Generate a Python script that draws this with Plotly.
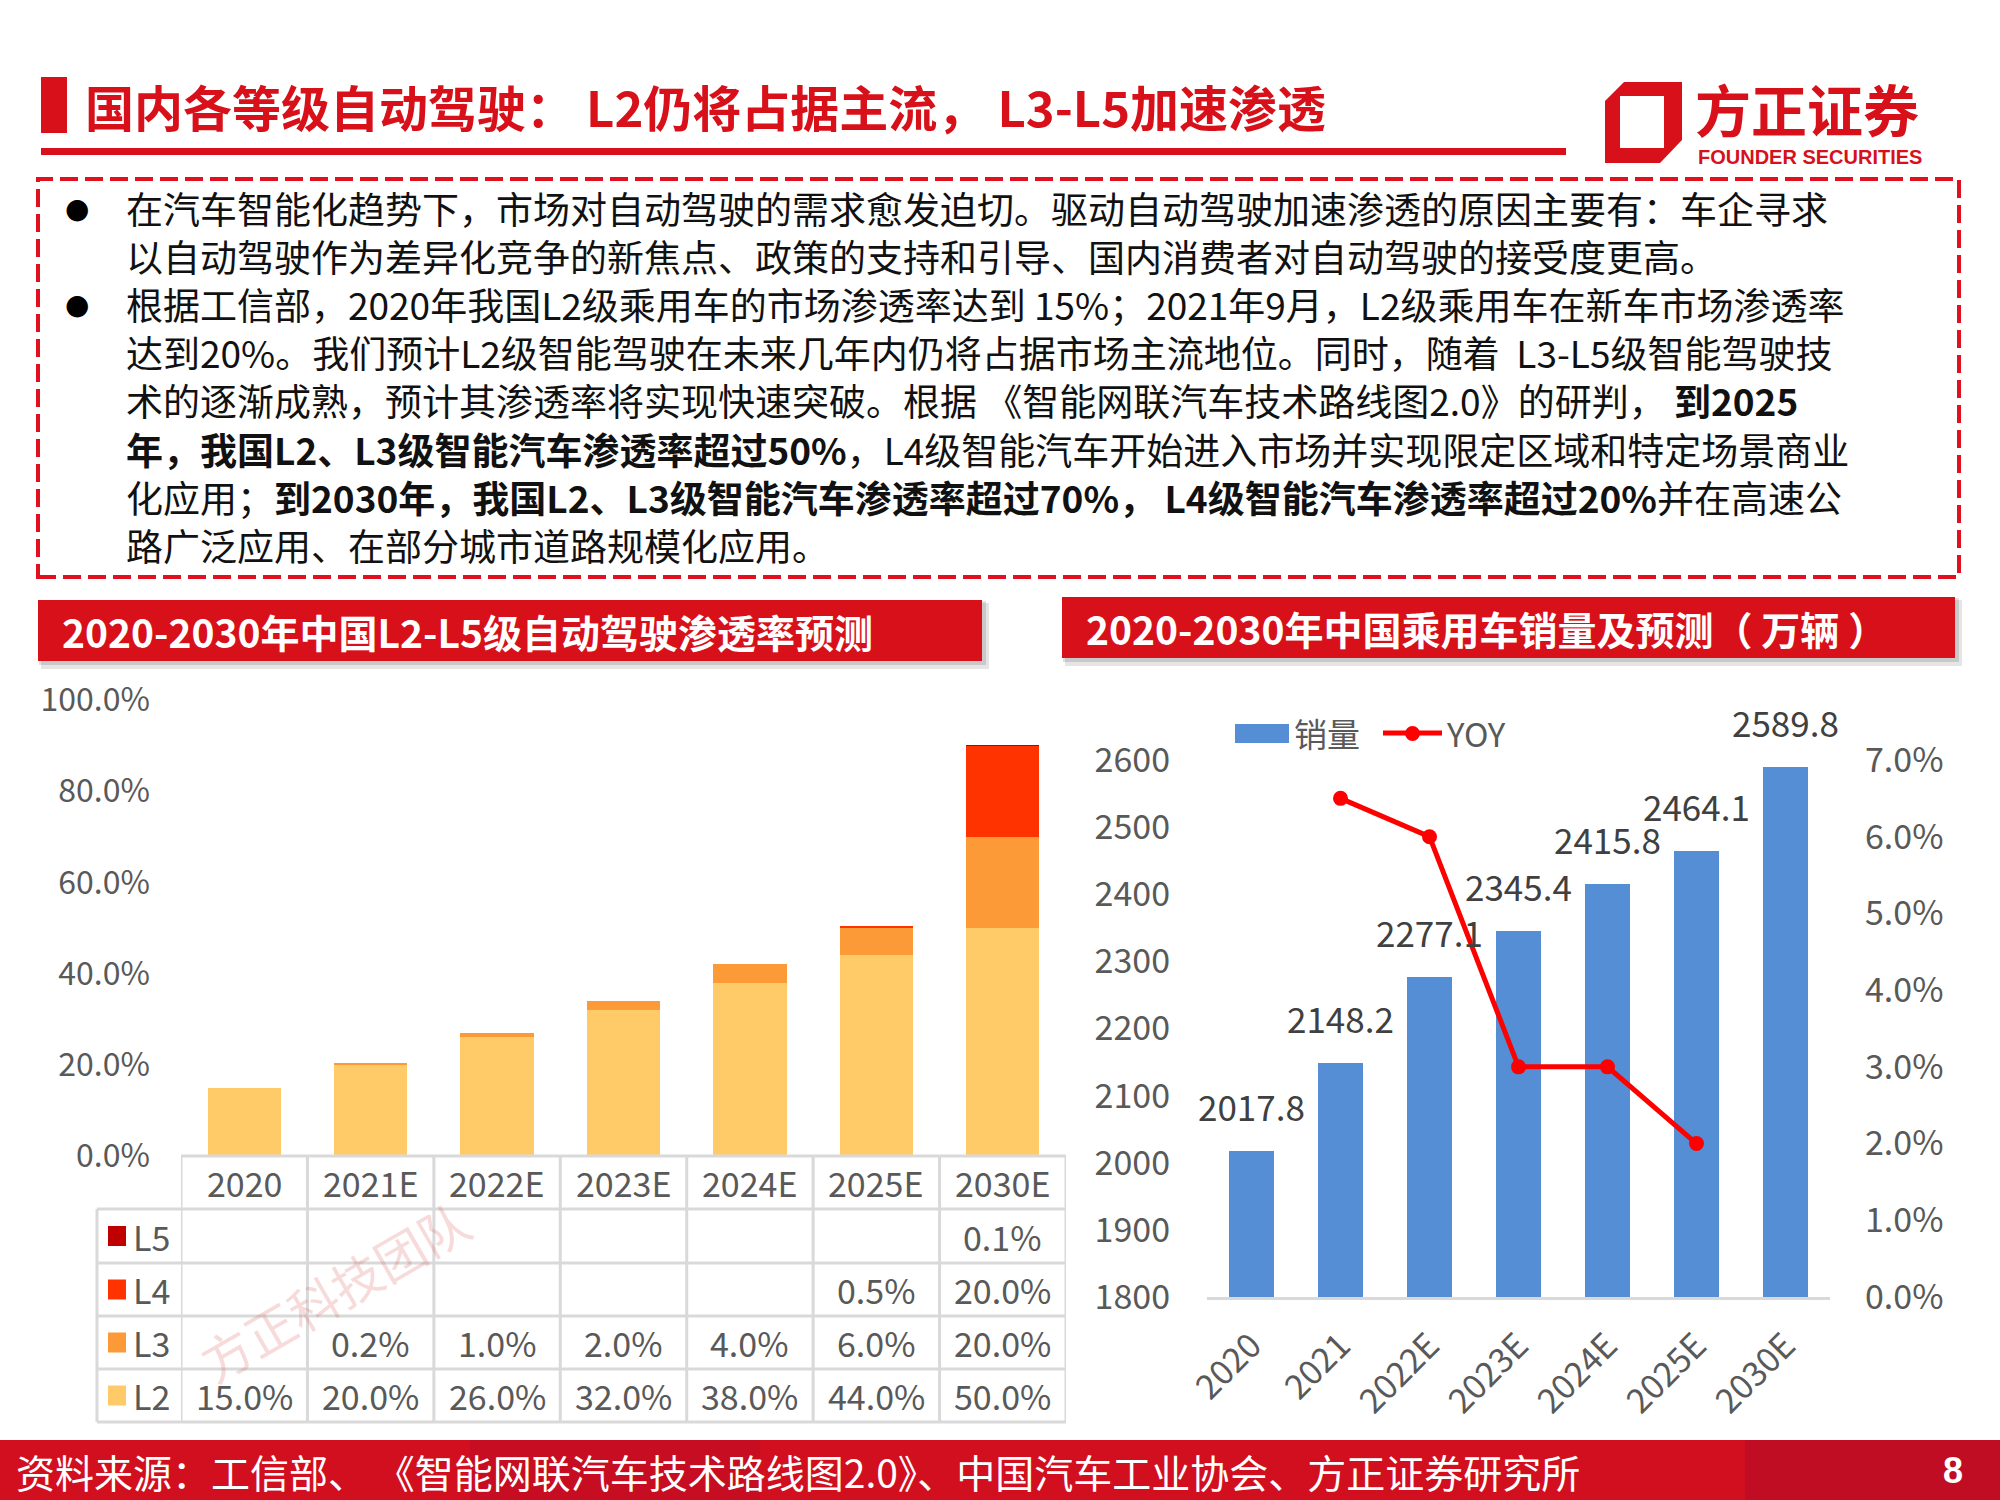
import plotly.graph_objects as go

# ---------------- data ----------------
years_left = ["2020", "2021E", "2022E", "2023E", "2024E", "2025E", "2030E"]
L2 = [15.0, 20.0, 26.0, 32.0, 38.0, 44.0, 50.0]
L3 = [None, 0.2, 1.0, 2.0, 4.0, 6.0, 20.0]
L4 = [None, None, None, None, None, 0.5, 20.0]
L5 = [None, None, None, None, None, None, 0.1]
level_names = ["L5", "L4", "L3", "L2"]

years_right = ["2020", "2021", "2022E", "2023E", "2024E", "2025E", "2030E"]
sales = [2017.8, 2148.2, 2277.1, 2345.4, 2415.8, 2464.1, 2589.8]
yoy = [None, 6.5, 6.0, 3.0, 3.0, 2.0, None]

title_text = "国内各等级自动驾驶： L2仍将占据主流， L3-L5加速渗透"
left_header = "2020-2030年中国L2-L5级自动驾驶渗透率预测"
right_header = "2020-2030年中国乘用车销量及预测（ 万辆 ）"
source_text = "资料来源：工信部、 《智能网联汽车技术路线图2.0》、中国汽车工业协会、方正证券研究所"
body_lines = [
    "在汽车智能化趋势下，市场对自动驾驶的需求愈发迫切。驱动自动驾驶加速渗透的原因主要有：车企寻求",
    "以自动驾驶作为差异化竞争的新焦点、政策的支持和引导、国内消费者对自动驾驶的接受度更高。",
    "根据工信部，2020年我国L2级乘用车的市场渗透率达到 15%；2021年9月，L2级乘用车在新车市场渗透率",
    "达到20%。我们预计L2级智能驾驶在未来几年内仍将占据市场主流地位。同时，随着  L3-L5级智能驾驶技",
    "术的逐渐成熟，预计其渗透率将实现快速突破。根据 《智能网联汽车技术路线图2.0》的研判， <b>到2025</b>",
    "<b>年，我国L2、L3级智能汽车渗透率超过50%</b>，L4级智能汽车开始进入市场并实现限定区域和特定场景商业",
    "化应用；<b>到2030年，我国L2、L3级智能汽车渗透率超过70%， L4级智能汽车渗透率超过20%</b>并在高速公",
    "路广泛应用、在部分城市道路规模化应用。",
]
bullet_rows = [0, 2]

# ---------------- style ----------------
W, H = 2000, 1500
RED = "#D7101A"
CJK = "Noto Sans CJK SC"
GRAY_TXT = "#595959"
level_colors = {"L2": "#FECB68", "L3": "#FD9A38", "L4": "#FF3300", "L5": "#C00000"}
BLUE = "#558ED5"
BODY_SIZE = 37


def px(x):
    return x / W


def py(y):
    return 1 - y / H


fig = go.Figure()

# ---------------- left stacked bars ----------------
series = {"L2": L2, "L3": L3, "L4": L4, "L5": L5}
for name in ["L2", "L3", "L4", "L5"]:
    fig.add_trace(go.Bar(
        x=years_left, y=series[name], name=name, width=0.58,
        marker=dict(color=level_colors[name], line=dict(width=0)),
        xaxis="x", yaxis="y", showlegend=False,
    ))

# ---------------- right bars + line ----------------
fig.add_trace(go.Bar(
    x=years_right, y=sales, name="销量", width=0.5,
    marker=dict(color=BLUE, line=dict(width=0)),
    xaxis="x2", yaxis="y2", showlegend=False,
))
fig.add_trace(go.Scatter(
    x=years_right, y=yoy, name="YOY", mode="lines+markers",
    line=dict(color="#FF0000", width=5),
    marker=dict(color="#FF0000", size=15),
    xaxis="x2", yaxis="y3", showlegend=False,
))

shapes = []
ann = []

# ---------------- title area ----------------
shapes.append(dict(type="rect", xref="paper", yref="paper", x0=px(41), x1=px(67), y0=py(133), y1=py(77),
                   fillcolor=RED, line=dict(width=0), layer="above"))
shapes.append(dict(type="rect", xref="paper", yref="paper", x0=px(41), x1=px(1566), y0=py(155), y1=py(148),
                   fillcolor=RED, line=dict(width=0), layer="above"))
ann.append(dict(text="<b>" + title_text + "</b>", x=px(83), y=py(106), xref="paper", yref="paper",
                xanchor="left", yanchor="middle", showarrow=False,
                font=dict(family=CJK, size=49, color=RED)))

# logo icon
shapes.append(dict(type="path", xref="paper", yref="paper",
                   path=f"M {px(1624)} {py(82)} L {px(1682)} {py(82)} L {px(1682)} {py(140)} "
                        f"L {px(1660)} {py(163)} L {px(1605)} {py(163)} L {px(1605)} {py(101)} Z",
                   fillcolor=RED, line=dict(width=0), layer="above"))
shapes.append(dict(type="rect", xref="paper", yref="paper", x0=px(1620), x1=px(1664), y0=py(148), y1=py(96),
                   fillcolor="white", line=dict(width=0), layer="above"))
ann.append(dict(text="<b>方正证券</b>", x=px(1693), y=py(107), xref="paper", yref="paper",
                xanchor="left", yanchor="middle", showarrow=False,
                font=dict(family=CJK, size=56, color=RED)))
ann.append(dict(text="<b>FOUNDER SECURITIES</b>", x=px(1696), y=py(157), xref="paper", yref="paper",
                xanchor="left", yanchor="middle", showarrow=False,
                font=dict(family="Liberation Sans", size=20, color=RED)))

# ---------------- dashed text box ----------------
shapes.append(dict(type="rect", xref="paper", yref="paper", x0=px(38), x1=px(1959), y0=py(577), y1=py(179),
                   line=dict(color="#E0101E", width=4, dash="18px,7px"), fillcolor="rgba(0,0,0,0)"))
body_center = (213 + 540) / 2
line_h = 1.3 * BODY_SIZE
n_lines = len(body_lines)
ann.append(dict(text="<br>".join(body_lines), x=px(124), y=py(body_center),
                xref="paper", yref="paper", xanchor="left", yanchor="middle", align="left",
                showarrow=False, font=dict(family=CJK, size=BODY_SIZE, color="#111111")))
for r in bullet_rows:
    yc = body_center + (r - (n_lines - 1) / 2) * line_h
    ann.append(dict(text="●", x=px(77), y=py(yc), xref="paper", yref="paper",
                    xanchor="center", yanchor="middle", showarrow=False,
                    font=dict(family="DejaVu Sans", size=28, color="#000000")))

# ---------------- section headers ----------------
for (x0, x1, y0, y1, txt, tx) in [(38, 982, 600, 661, left_header, 60),
                                  (1062, 1955, 597, 658, right_header, 1084)]:
    shapes.append(dict(type="rect", xref="paper", yref="paper", x0=px(x0 + 3), x1=px(x1 + 7), y0=py(y1 + 8), y1=py(y0 + 3),
                       fillcolor="rgba(0,0,0,0.10)", line=dict(width=0)))
    shapes.append(dict(type="rect", xref="paper", yref="paper", x0=px(x0 + 1), x1=px(x1 + 4), y0=py(y1 + 4), y1=py(y0 + 1),
                       fillcolor="rgba(0,0,0,0.12)", line=dict(width=0)))
    shapes.append(dict(type="rect", xref="paper", yref="paper", x0=px(x0), x1=px(x1), y0=py(y1), y1=py(y0),
                       fillcolor=RED, line=dict(width=0)))
    ann.append(dict(text="<b>" + txt + "</b>", x=px(tx), y=py((y0 + y1) / 2), xref="paper", yref="paper",
                    xanchor="left", yanchor="middle", showarrow=False,
                    font=dict(family=CJK, size=39, color="white")))

# ---------------- left data table ----------------
GRID = "#D9D9D9"
row_edges = [1156, 1209, 1263, 1316, 1369, 1422]
shapes.append(dict(type="line", xref="x", yref="paper", x0=-0.5, x1=6.5, y0=py(1156), y1=py(1156),
                   line=dict(color=GRID, width=3)))
for yy in row_edges[1:]:
    shapes.append(dict(type="line", xref="paper", yref="paper", x0=px(97), x1=px(1066), y0=py(yy), y1=py(yy),
                       line=dict(color=GRID, width=3)))
for k in range(len(years_left) + 1):
    shapes.append(dict(type="line", xref="x", yref="paper", x0=k - 0.5, x1=k - 0.5, y0=py(1156), y1=py(1422),
                       line=dict(color=GRID, width=3)))
shapes.append(dict(type="line", xref="paper", yref="paper", x0=px(97), x1=px(97), y0=py(1209), y1=py(1422),
                   line=dict(color=GRID, width=3)))
for ci, c in enumerate(years_left):
    ann.append(dict(text=c, x=ci, y=py((1156 + 1209) / 2), xref="x", yref="paper",
                    xanchor="center", yanchor="middle", showarrow=False,
                    font=dict(family=CJK, size=34, color=GRAY_TXT)))
for ri, name in enumerate(level_names):
    yc = (row_edges[ri + 1] + row_edges[ri + 2]) / 2
    shapes.append(dict(type="rect", xref="paper", yref="paper", x0=px(108), x1=px(126),
                       y0=py(yc + 10), y1=py(yc - 10), fillcolor=level_colors[name], line=dict(width=0)))
    ann.append(dict(text=name, x=px(131), y=py(yc), xref="paper", yref="paper",
                    xanchor="left", yanchor="middle", showarrow=False,
                    font=dict(family=CJK, size=34, color=GRAY_TXT)))
    for ci, v in enumerate(series[name]):
        if v is None:
            continue
        ann.append(dict(text=f"{v:.1f}%", x=ci, y=py(yc), xref="x", yref="paper",
                        xanchor="center", yanchor="middle", showarrow=False,
                        font=dict(family=CJK, size=34, color=GRAY_TXT)))

# watermark
ann.append(dict(text="方正科技团队", x=px(334), y=py(1290), xref="paper", yref="paper",
                xanchor="center", yanchor="middle", showarrow=False, textangle=-30,
                font=dict(family=CJK, size=50, color="rgba(220,90,90,0.22)")))

# ---------------- right chart: data labels + legend ----------------
for ci, v in enumerate(sales):
    ann.append(dict(text=f"{v:.1f}", x=ci, y=v, xref="x2", yref="y2",
                    xanchor="center", yanchor="bottom", yshift=18, showarrow=False,
                    font=dict(family=CJK, size=35, color="#404040")))

shapes.append(dict(type="rect", xref="paper", yref="paper", x0=px(1235), x1=px(1289), y0=py(743), y1=py(724),
                   fillcolor=BLUE, line=dict(width=0)))
ann.append(dict(text="销量", x=px(1292), y=py(733), xref="paper", yref="paper",
                xanchor="left", yanchor="middle", showarrow=False,
                font=dict(family=CJK, size=33, color=GRAY_TXT)))
shapes.append(dict(type="line", xref="paper", yref="paper", x0=px(1383), x1=px(1442), y0=py(733), y1=py(733),
                   line=dict(color="#FF0000", width=5)))
shapes.append(dict(type="circle", xref="paper", yref="paper", x0=px(1405), x1=px(1420), y0=py(741), y1=py(726),
                   fillcolor="#FF0000", line=dict(width=0)))
ann.append(dict(text="YOY", x=px(1444), y=py(733), xref="paper", yref="paper",
                xanchor="left", yanchor="middle", showarrow=False,
                font=dict(family=CJK, size=33, color=GRAY_TXT)))

# ---------------- footer ----------------
shapes.append(dict(type="rect", xref="paper", yref="paper", x0=0, x1=1, y0=0, y1=py(1440),
                   fillcolor="#D20F1F", line=dict(width=0)))
shapes.append(dict(type="rect", xref="paper", yref="paper", x0=px(470), x1=px(760), y0=0, y1=py(1440),
                   fillcolor="#C20D24", line=dict(width=0), opacity=0.7))
shapes.append(dict(type="rect", xref="paper", yref="paper", x0=px(1745), x1=1, y0=0, y1=py(1440),
                   fillcolor="#C00D24", line=dict(width=0)))
ann.append(dict(text=source_text, x=px(14), y=py(1471), xref="paper", yref="paper",
                xanchor="left", yanchor="middle", showarrow=False,
                font=dict(family=CJK, size=39, color="white")))
ann.append(dict(text="<b>8</b>", x=px(1953), y=py(1470), xref="paper", yref="paper",
                xanchor="center", yanchor="middle", showarrow=False,
                font=dict(family="Liberation Sans", size=36, color="white")))

fig.update_layout(
    width=W, height=H, autosize=False,
    margin=dict(l=0, r=0, t=0, b=0, pad=0, autoexpand=False),
    paper_bgcolor="white", plot_bgcolor="rgba(0,0,0,0)",
    barmode="stack",
    showlegend=False,
    font=dict(family=CJK, color=GRAY_TXT),
    xaxis=dict(type="category", domain=[px(181), px(1066)], range=[-0.5, 6.5], anchor="y",
               showticklabels=False, showgrid=False, zeroline=False, showline=False, ticks="",
               automargin=False),
    yaxis=dict(domain=[py(1156), py(700)], range=[0, 100], dtick=20, anchor="x",
               tickformat=".1f", ticksuffix="%", showgrid=False, zeroline=False, showline=False,
               ticks="", ticklabelstandoff=30, automargin=False,
               tickfont=dict(family=CJK, size=32, color=GRAY_TXT)),
    xaxis2=dict(type="category", domain=[px(1207), px(1830)], range=[-0.5, 6.5], anchor="y2",
                tickangle=-45, showgrid=False, zeroline=False, showline=True,
                linecolor=GRID, linewidth=3, ticks="", ticklabelstandoff=12, automargin=False,
                tickfont=dict(family=CJK, size=34, color=GRAY_TXT)),
    yaxis2=dict(domain=[py(1297), py(760)], range=[1800, 2600], dtick=100, anchor="x2",
                showgrid=False, zeroline=False, showline=False, ticks="", ticklabelstandoff=36,
                automargin=False,
                tickfont=dict(family=CJK, size=34, color=GRAY_TXT)),
    yaxis3=dict(overlaying="y2", side="right", anchor="x2", range=[0, 7], dtick=1,
                tickformat=".1f", ticksuffix="%", showgrid=False, zeroline=False, showline=False,
                ticks="", ticklabelstandoff=34, automargin=False,
                tickfont=dict(family=CJK, size=34, color=GRAY_TXT)),
    shapes=shapes,
    annotations=ann,
)

fig.write_html("out.html", config={"displayModeBar": False},
               post_script="document.body.style.margin='0px';document.body.style.overflow='hidden';")
